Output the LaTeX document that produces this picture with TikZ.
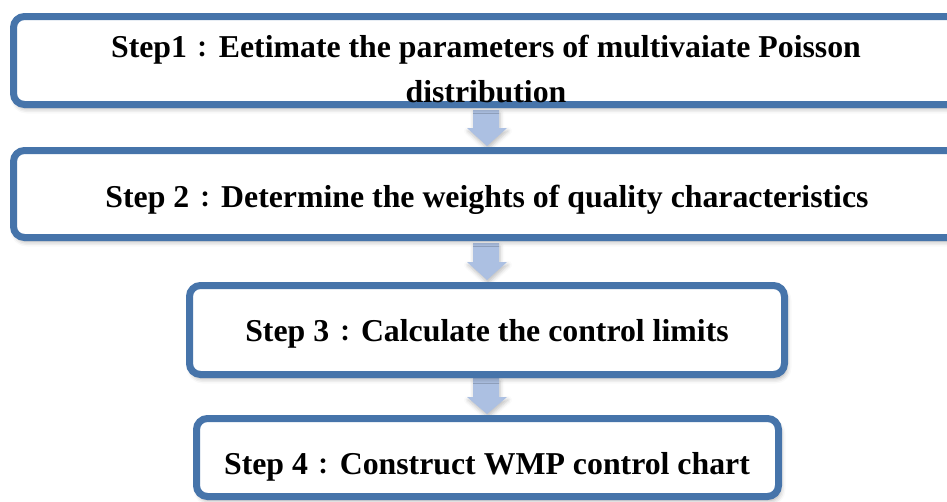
\documentclass[tikz,border=0pt]{standalone}
\usepackage{fontspec}
\setmainfont{Liberation Serif}
\newfontfamily\cjkpunct{Noto Sans CJK TC}
\usetikzlibrary{shadows.blur}
\definecolor{frameblue}{RGB}{70,116,170}
\definecolor{arrowblue}{RGB}{172,192,226}
% full-width colon, set a little lighter than the bold Latin text
\newcommand{\fwcolon}{\makebox[1em]{\cjkpunct\fontsize{22}{22}\selectfont ：}}
\tikzset{
  x=1pt, y=1pt,
  stepbox/.style={draw=frameblue, line width=7pt, rounded corners=11pt, fill=white,
    blur shadow={shadow xshift=2pt, shadow yshift=-4pt, shadow blur radius=5pt, shadow opacity=35}},
  steplabel/.style={font=\bfseries\fontsize{31.8}{45}\selectfont, align=center, inner sep=0pt},
  flowarrow/.style={fill=arrowblue, draw=none,
    blur shadow={shadow xshift=1pt, shadow yshift=-3pt, shadow blur radius=4pt, shadow opacity=25}}
}
\begin{document}
\begin{tikzpicture}
\useasboundingbox (0,0) rectangle (947,-501);
\begin{scope}
\clip (0,0) rectangle (947,-501);

% block arrows between consecutive steps
\newcommand{\blockarrow}[3]{% top y, head start y, tip y
  \fill[flowarrow] (473,#1) -- (499,#1) -- (499,#2) -- (507,#2) -- (487,#3)
    -- (467,#2) -- (473,#2) -- cycle;}
\blockarrow{-110}{-128}{-146}
\blockarrow{-243}{-262}{-280}
\blockarrow{-378}{-397}{-414}

% step frames
\draw[stepbox] (13.5,-16.5) rectangle (960.5,-104.5) node[midway] (s1) {};
\draw[stepbox] (13.5,-150.5) rectangle (960.5,-237.5) node[midway] (s2) {};
\draw[stepbox] (189.5,-285.5) rectangle (784.5,-374.5) node[midway] (s3) {};
\draw[stepbox] (196.5,-418.5) rectangle (778.5,-496.5) node[midway] (s4) {};

% step texts
\node[steplabel] (t1) at (486,-69) {Step1\fwcolon Eetimate the parameters of multivaiate Poisson\\distribution};
\node[steplabel] (t2) at (487,-200) {Step 2\fwcolon Determine the weights of quality characteristics};
\node[steplabel] (t3) at (487,-334) {Step 3\fwcolon Calculate the control limits};
\node[steplabel] (t4) at (487,-467) {Step 4\fwcolon Construct WMP control chart};
\end{scope}
\end{tikzpicture}
\end{document}
